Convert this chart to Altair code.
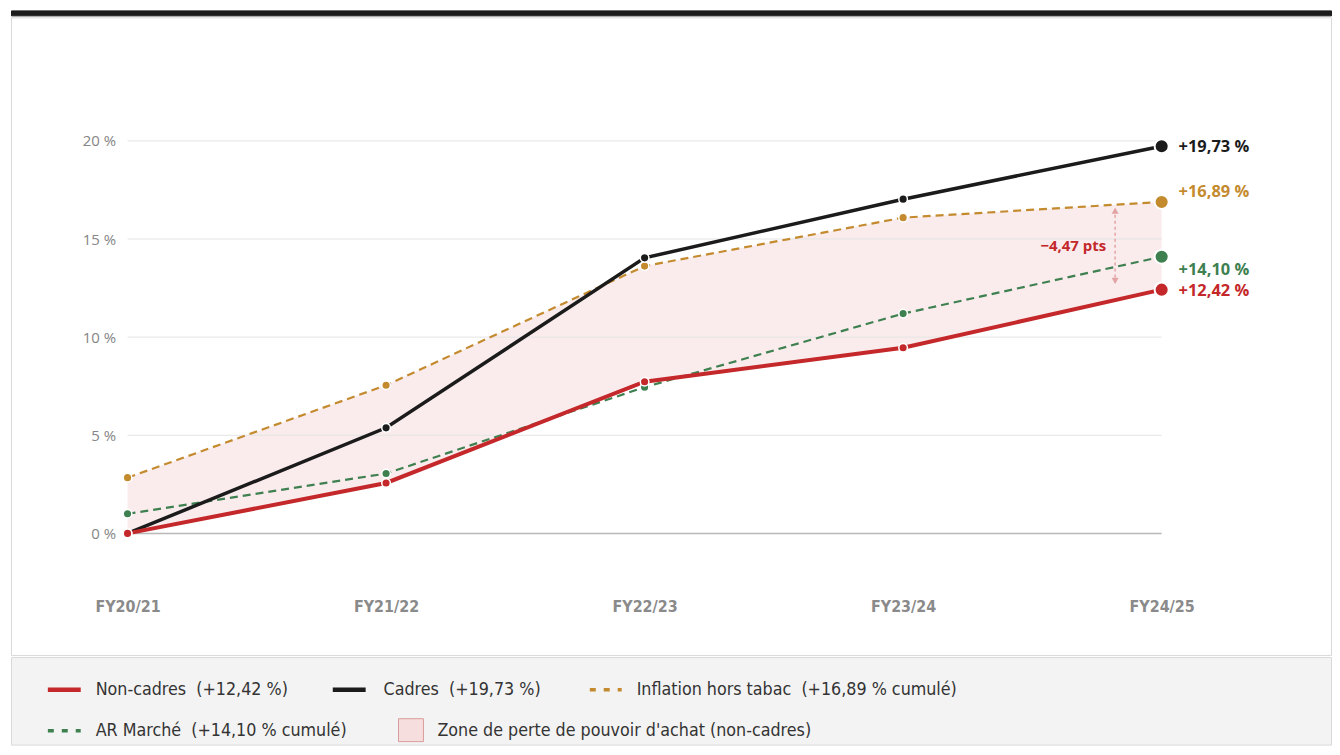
import altair as alt
import pandas as pd

# ---------------- data ----------------
periods = ["FY20/21", "FY21/22", "FY22/23", "FY23/24", "FY24/25"]
non_cadres = [0.0, 2.57, 7.73, 9.46, 12.42]
cadres = [0.0, 5.38, 14.04, 17.03, 19.73]
inflation = [2.84, 7.55, 13.62, 16.09, 16.89]
ar_marche = [1.0, 3.05, 7.45, 11.2, 14.10]
y_ticks = [0, 5, 10, 15, 20]
annot_pos = 3.82  # position (in periods) of the gap annotation

# ---------------- styles ----------------
RED = "#c4282a"
BLACK = "#1b1b1b"
GOLD = "#c48a2e"
GREEN = "#3e8050"
FONT = "Open Sans"
NARROW = "DejaVu Sans Condensed, Open Sans"

W = 1325          # card width
H = 640           # main panel height
X0 = 117          # pixel of first period in panel
STEP = 259.5      # pixels between periods
Y0 = 518          # pixel of 0 % from panel top
PPU = 19.7        # pixels per percentage point

xscale = alt.Scale(domain=[-X0 / STEP, (W - X0) / STEP], nice=False, zero=False)
yscale = alt.Scale(domain=[-(H - Y0) / PPU, Y0 / PPU], nice=False, zero=False)

label_js = "[" + ",".join(f"'{p}'" for p in periods) + "]"
xaxis = alt.Axis(values=list(range(len(periods))), labelExpr=f"{label_js}[datum.value]",
                 orient="bottom", offset=-59, grid=False, domain=False, ticks=False,
                 labelPadding=2, labelBaseline="top", labelFont=NARROW, labelFontSize=16,
                 labelFontWeight="bold", labelColor="#8a8a8a", title=None)
yaxis = alt.Axis(values=y_ticks, labelExpr="datum.value + ' %'", orient="left", offset=-107,
                 grid=False, domain=False, ticks=False, labelPadding=2, labelFont=FONT,
                 labelFontSize=15, labelFontWeight=500, labelColor="#858585", title=None)

idx = list(range(len(periods)))
df = pd.DataFrame({"i": idx, "period": periods, "non_cadres": non_cadres, "cadres": cadres,
                   "inflation": inflation, "ar": ar_marche})

def X(field="i"):
    return alt.X(f"{field}:Q", scale=xscale, axis=xaxis)

def Y(field):
    return alt.Y(f"{field}:Q", scale=yscale, axis=yaxis)

base = alt.Chart(df)

zone = base.mark_area(color=RED, opacity=0.085).encode(x=X(), y=Y("non_cadres"), y2="inflation:Q")

grid_df = pd.DataFrame({"v": y_ticks[1:], "a": 0, "b": len(periods) - 1})
grid = alt.Chart(grid_df).mark_rule(color="#e4e4e4", strokeWidth=1).encode(
    x=X("a"), x2="b:Q", y=Y("v"))
zero_df = pd.DataFrame({"v": [y_ticks[0]], "a": [0], "b": [len(periods) - 1]})
zero = alt.Chart(zero_df).mark_rule(color="#b8b8b8", strokeWidth=1.5).encode(
    x=X("a"), x2="b:Q", y=Y("v"))

def series_layers(field, color, width, dash=None, dy=0):
    kw = dict(color=color, strokeWidth=width)
    if dash:
        kw["strokeDash"] = dash
    line = base.mark_line(**kw).encode(x=X(), y=Y(field))
    pts = base.transform_filter(alt.datum.i < len(periods) - 1).mark_circle(
        color=color, size=75, opacity=1, stroke="white", strokeWidth=1.5).encode(x=X(), y=Y(field))
    end = base.transform_filter(alt.datum.i == len(periods) - 1).mark_circle(
        color=color, size=200, opacity=1, stroke="white", strokeWidth=2).encode(x=X(), y=Y(field))
    lab = base.transform_filter(alt.datum.i == len(periods) - 1).transform_calculate(
        txt=f"'+' + replace(format(datum['{field}'], '.2f'), '.', ',') + ' %'"
    ).mark_text(align="left", baseline="middle", dx=17, dy=dy, font=FONT, fontSize=16.5,
                fontWeight="bold", color=color).encode(x=X(), y=Y(field), text="txt:N")
    return line, pts, end, lab

inf_l = series_layers("inflation", GOLD, 2.2, [8, 5], dy=-10)
ar_l = series_layers("ar", GREEN, 2.2, [8, 5], dy=13)
cad_l = series_layers("cadres", BLACK, 3.5, dy=1)
non_l = series_layers("non_cadres", RED, 4, dy=1)

# gap annotation
gap = inflation[-1] - non_cadres[-1]
ann_df = pd.DataFrame({"x": [annot_pos], "top": [inflation[-1]], "bot": [non_cadres[-1]],
                       "mid": [(inflation[-1] + non_cadres[-1]) / 2],
                       "txt": ["\u2212" + f"{gap:.2f}".replace(".", ",") + " pts"]})
ann = alt.Chart(ann_df)
arrow = ann.transform_calculate(t="datum.top - 0.35", b="datum.bot + 0.35").mark_rule(
    color="#e2a3a3", strokeWidth=1.5, strokeDash=[3, 3]).encode(x=X("x"), y=Y("t"), y2="b:Q")
head_up = ann.transform_calculate(t="datum.top - 0.45").mark_point(
    shape="triangle-up", filled=True, size=50, color="#e2a3a3", opacity=1).encode(x=X("x"), y=Y("t"))
head_dn = ann.transform_calculate(b="datum.bot + 0.45").mark_point(
    shape="triangle-down", filled=True, size=50, color="#e2a3a3", opacity=1).encode(x=X("x"), y=Y("b"))
ann_txt = ann.mark_text(align="right", baseline="middle", dx=-9, font=FONT, fontSize=15,
                        fontWeight="bold", color=RED).encode(x=X("x"), y=Y("mid"), text="txt:N")

main = alt.layer(
    zone, grid, zero,
    inf_l[0], ar_l[0], cad_l[0], non_l[0],
    inf_l[1], ar_l[1], cad_l[1], non_l[1],
    inf_l[2], ar_l[2], cad_l[2], non_l[2],
    inf_l[3], ar_l[3], cad_l[3], non_l[3],
    arrow, head_up, head_dn, ann_txt,
).properties(width=W, height=H, view=alt.ViewBackground(fill="white", stroke="#d9d9d9"))

# ---------------- top bar ----------------
top = alt.Chart(pd.DataFrame({"a": [0]})).mark_rule(opacity=0).encode(
    x=alt.value(0), y=alt.value(0)).properties(
    width=W, height=5, view=alt.ViewBackground(fill="#1c1c1c", stroke="#1c1c1c"))

# ---------------- legend ----------------
def fmt(v):
    return f"{v:.2f}".replace(".", ",")

leg_labels = [f"Non-cadres \u00a0(+{fmt(non_cadres[-1])} %)",
              f"Cadres \u00a0(+{fmt(cadres[-1])} %)",
              f"Inflation hors tabac \u00a0(+{fmt(inflation[-1])} % cumulé)",
              f"AR Marché \u00a0(+{fmt(ar_marche[-1])} % cumulé)",
              "Zone de perte de pouvoir d'achat (non-cadres)"]
leg_colors = [RED, BLACK, GOLD, GREEN, "#f6dede"]
leg_kind = ["solid", "solid", "dot", "dot", "box"]
# layout (pixels in legend panel)
leg_x1 = [37, 323, 581, 37, 389]
leg_x2 = [70, 356, 613, 70, 414]
leg_tx = [85, 374, 628, 85, 428]
leg_y = [33, 33, 33, 74, 74]

leg_df = pd.DataFrame({"label": leg_labels, "color": leg_colors, "kind": leg_kind,
                       "x1": leg_x1, "x2": leg_x2, "tx": leg_tx, "y": leg_y})
lb = alt.Chart(leg_df)
px = lambda f: alt.X(f"{f}:Q", scale=None, axis=None)
py = lambda f: alt.Y(f"{f}:Q", scale=None, axis=None)
solid = lb.transform_filter(alt.datum.kind == "solid").mark_rule(strokeWidth=4.5, strokeCap="butt").encode(
    x=px("x1"), x2="x2:Q", y=py("y"), color=alt.Color("color:N", scale=None))
dots = lb.transform_filter(alt.datum.kind == "dot").mark_rule(strokeWidth=3.5, strokeDash=[6, 8]).encode(
    x=px("x1"), x2="x2:Q", y=py("y"), color=alt.Color("color:N", scale=None))
box = lb.transform_filter(alt.datum.kind == "box").transform_calculate(
    y1="datum.y - 12", y2="datum.y + 11").mark_rect(stroke="#d99c9c", strokeWidth=1).encode(
    x=px("x1"), x2="x2:Q", y=py("y1"), y2="y2:Q", fill=alt.Color("color:N", scale=None))
texts = lb.mark_text(align="left", baseline="middle", font=NARROW, fontSize=17.8, color="#333333").encode(
    x=px("tx"), y=py("y"), text="label:N")

legend = alt.layer(solid, dots, box, texts).properties(
    width=W, height=88, view=alt.ViewBackground(fill="#f3f3f3", stroke="#d9d9d9"))

chart = alt.vconcat(top, main, legend, spacing=0).properties(
    padding={"left": 2, "top": 0, "right": 0, "bottom": 0}, background="white")

chart.save("out.html", embed_options={"renderer": "svg", "actions": False})
